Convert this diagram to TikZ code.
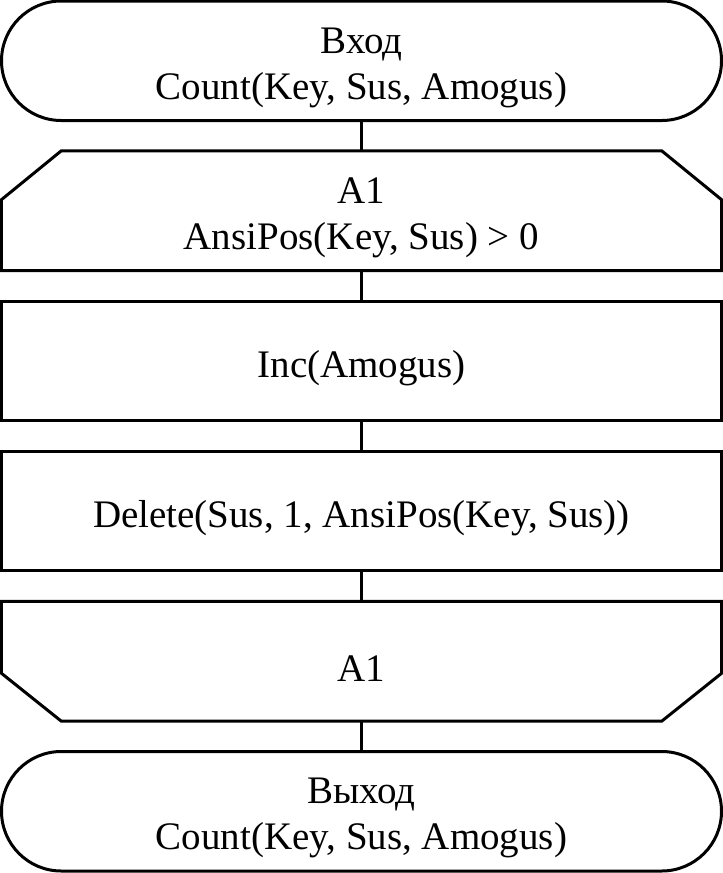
\documentclass[tikz,border=0pt]{standalone}
\usepackage{fontspec}
\setmainfont{Liberation Serif}
\begin{document}
\begin{tikzpicture}[x=1pt,y=-1pt,
  ln/.style={line width=3pt, line join=miter},
  txt/.style={inner sep=0pt, align=center, yshift=-7pt,
    font=\fontsize{39pt}{46pt}\selectfont},
  blk/.style={minimum width=720pt, minimum height=119.5pt, inner sep=0pt},
  term/.style={blk, draw, ln, rounded corners=59.75pt},
  proc/.style={blk, draw, ln}]
\useasboundingbox (0,0) rectangle (723,873);
\node[term] (t1) at (361.5,60.75) {};
\node[blk] (l1) at (361.5,210.75) {};
\node[proc] (b1) at (361.5,360.75) {};
\node[proc] (b2) at (361.5,510.75) {};
\node[blk] (l2) at (361.5,661.25) {};
\node[term] (t2) at (361.5,811.25) {};
\node[txt] (t1x) at (t1.center) {Вход\\Count(Key, Sus, Amogus)};
\node[txt] (l1x) at (l1.center) {A1\\AnsiPos(Key, Sus) > 0};
\node[txt] (b1x) at (b1.center) {Inc(Amogus)};
\node[txt] (b2x) at (b2.center) {Delete(Sus, 1, AnsiPos(Key, Sus))};
\node[txt] (l2x) at (l2.center) {A1};
\node[txt] (t2x) at (t2.center) {Выход\\Count(Key, Sus, Amogus)};
\draw[ln] ([yshift=-49pt]l1.north west) -- ([xshift=60pt]l1.north west) -- ([xshift=-60pt]l1.north east) -- ([yshift=-49pt]l1.north east) -- (l1.south east) -- (l1.south west) -- cycle;
\draw[ln] (l2.north west) -- (l2.north east) -- ([yshift=48pt]l2.south east) -- ([xshift=-60pt]l2.south east) -- ([xshift=60pt]l2.south west) -- ([yshift=48pt]l2.south west) -- cycle;
\draw[ln] (t1) -- (l1);
\draw[ln] (l1) -- (b1);
\draw[ln] (b1) -- (b2);
\draw[ln] (b2) -- (l2);
\draw[ln] (l2) -- (t2);
\end{tikzpicture}
\end{document}
